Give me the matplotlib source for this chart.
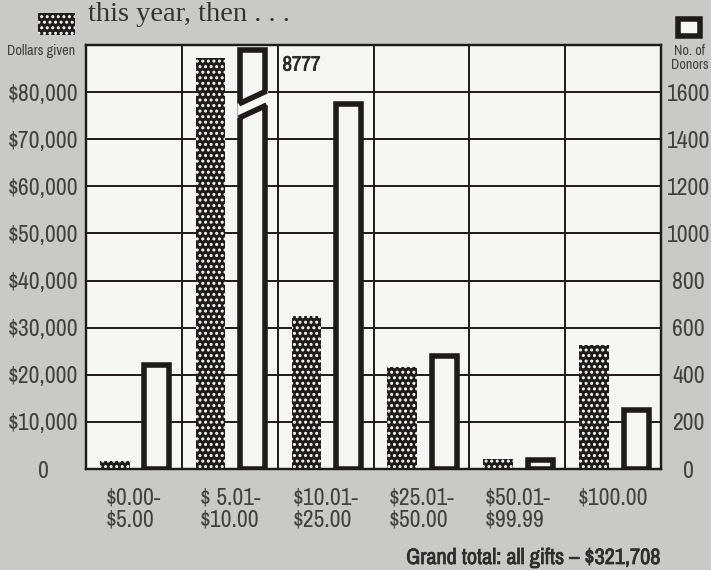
import matplotlib.pyplot as plt
from matplotlib import font_manager as fm
from matplotlib import patheffects as pe
from matplotlib.patches import Rectangle, Polygon
import numpy as np

categories = ['$0.00-\n$5.00', '$ 5.01-\n$10.00', '$10.01-\n$25.00',
              '$25.01-\n$50.00', '$50.01-\n$99.99', '$100.00']
dollars_given = [1700, 87300, 32500, 21700, 2100, 26300]
num_donors = [440, 8777, 1550, 480, 40, 250]

dollar_ticks = [0, 10000, 20000, 30000, 40000, 50000, 60000, 70000, 80000]
dollar_labels = ['0', '$10,000', '$20,000', '$30,000', '$40,000',
                 '$50,000', '$60,000', '$70,000', '$80,000']
donor_ticks = [0, 200, 400, 600, 800, 1000, 1200, 1400, 1600]

headline = 'this year, then . . .'
grand_total = 'Grand total: all gifts \u2013 $321,708'

# look for a condensed sans, the scan uses a narrow face
narrow_name = None
narrow_stretch = 'normal'
for f in fm.fontManager.ttflist:
    if 'Narrow' in f.name or 'Condensed' in f.name:
        narrow_name = f.name
        break
if narrow_name is None:
    for f in fm.fontManager.ttflist:
        if f.stretch in ('condensed', 'semi-condensed', 'extra-condensed', 'ultra-condensed'):
            narrow_name = f.name
            narrow_stretch = f.stretch
            break
if narrow_name is None:
    narrow_name = 'DejaVu Sans'
    big = 13
else:
    big = 17
narrow = [narrow_name, 'DejaVu Sans']

has_bold = any(f.name == narrow_name and str(f.weight) in ('600', '700', '800', 'bold')
               for f in fm.fontManager.ttflist)
if has_bold:
    bold_fx = []
else:
    bold_fx = [pe.withStroke(linewidth=0.5, foreground='#2a2a2a')]

paper = '#c9c9c7'
plot_bg = '#f6f6f4'
ink = '#1f1b1b'
text_col = '#404040'

plt.rcParams['hatch.linewidth'] = 1.4
plt.rcParams['font.stretch'] = narrow_stretch

fig = plt.figure(figsize=(7.11, 5.70), dpi=100, facecolor=paper)
ax = fig.add_axes([86 / 711, 1 - 469 / 570, (661 - 86) / 711, (469 - 45) / 570])
ax.set_facecolor(plot_bg)
ax2 = ax.twinx()

x = np.arange(len(categories))
ax.set_xlim(0, len(categories))
ax.set_ylim(0, 90000)
ax2.set_ylim(0, 1800)

# dotted bars: dollars given
ax.bar(x + 0.30, dollars_given, width=0.31, color=ink, edgecolor='white',
       linewidth=0, hatch='...', zorder=3)

# hollow bars: number of donors (tall one gets a break)
cap = 1780
shown = [min(v, cap) for v in num_donors]
lw = 4
ax2.bar(x + 0.74, shown, width=0.26, facecolor=plot_bg, edgecolor=ink,
        linewidth=lw, zorder=3)

for i, v in enumerate(num_donors):
    if v > cap:
        xc = i + 0.74
        half = 0.13 + 0.03
        lo, hi, rise = 1490, 1550, 55
        gap = Polygon([[xc - half, lo], [xc + half, lo + rise],
                       [xc + half, hi + rise], [xc - half, hi]],
                      closed=True, facecolor=plot_bg, edgecolor='none', zorder=4)
        ax2.add_patch(gap)
        ax2.plot([xc - half + 0.015, xc + half - 0.015], [lo, lo + rise],
                 color=ink, lw=lw, zorder=5, solid_capstyle='butt')
        ax2.plot([xc - half + 0.015, xc + half - 0.015], [hi, hi + rise],
                 color=ink, lw=lw, zorder=5, solid_capstyle='butt')
        ax2.text(i + 1.05, cap - 25, str(v), ha='left', va='top',
                 family=narrow, fontweight='bold', fontsize=big - 2,
                 color='#2a2a2a', path_effects=bold_fx)

# grid
ax.set_axisbelow(True)
ax.set_yticks(dollar_ticks)
ax.set_yticklabels(dollar_labels, ha='center')
ax.set_xticks(x + 0.5)
ax.set_xticklabels(categories, multialignment='left', linespacing=1.08)
ax.set_xticks(np.arange(len(categories) + 1), minor=True)
ax.yaxis.grid(True, color=ink, lw=1.4)
ax.xaxis.grid(True, which='minor', color=ink, lw=1.4)
ax.tick_params(axis='both', which='both', length=0, labelsize=big,
               labelcolor=text_col)
ax.tick_params(axis='y', pad=31)
ax.tick_params(axis='x', pad=13)
for lab in ax.get_yticklabels() + ax.get_xticklabels():
    lab.set_family(narrow)

ax2.set_yticks(donor_ticks)
ax2.set_yticklabels([str(t) for t in donor_ticks], ha='center')
ax2.tick_params(axis='y', length=0, pad=20, labelsize=big, labelcolor=text_col)
for lab in ax2.get_yticklabels():
    lab.set_family(narrow)

for a in (ax, ax2):
    for s in a.spines.values():
        s.set_color(ink)
        s.set_linewidth(1.6)

# header and legend keys
fig.text(88 / 711, 1 - 21 / 570, headline, family=['Liberation Serif', 'DejaVu Serif'],
         fontsize=20.5, color='#333333', va='baseline', ha='left')
fig.add_artist(Rectangle((38 / 711, 1 - 35 / 570), 37 / 711, 22 / 570,
                         transform=fig.transFigure, facecolor=ink,
                         edgecolor='white', linewidth=0, hatch='...'))
fig.add_artist(Rectangle((677.5 / 711, 1 - 36 / 570), 22 / 711, 17 / 570,
                         transform=fig.transFigure, facecolor=plot_bg,
                         edgecolor=ink, linewidth=lw))
fig.text(41 / 711, 1 - 51 / 570, 'Dollars given', family=narrow, fontsize=big * 0.6,
         color=text_col, ha='center', va='center')
fig.text(690 / 711, 1 - 58 / 570, 'No. of\nDonors', family=narrow, fontsize=big * 0.6,
         color=text_col, ha='center', va='center', linespacing=1.0)
fig.text(661 / 711, 1 - 558 / 570, grand_total, family=narrow, fontweight='bold',
         fontsize=big - 1, color='#2e2e2e', ha='right', va='center',
         path_effects=bold_fx)

fig.savefig('out.png', dpi=100, facecolor=paper)
